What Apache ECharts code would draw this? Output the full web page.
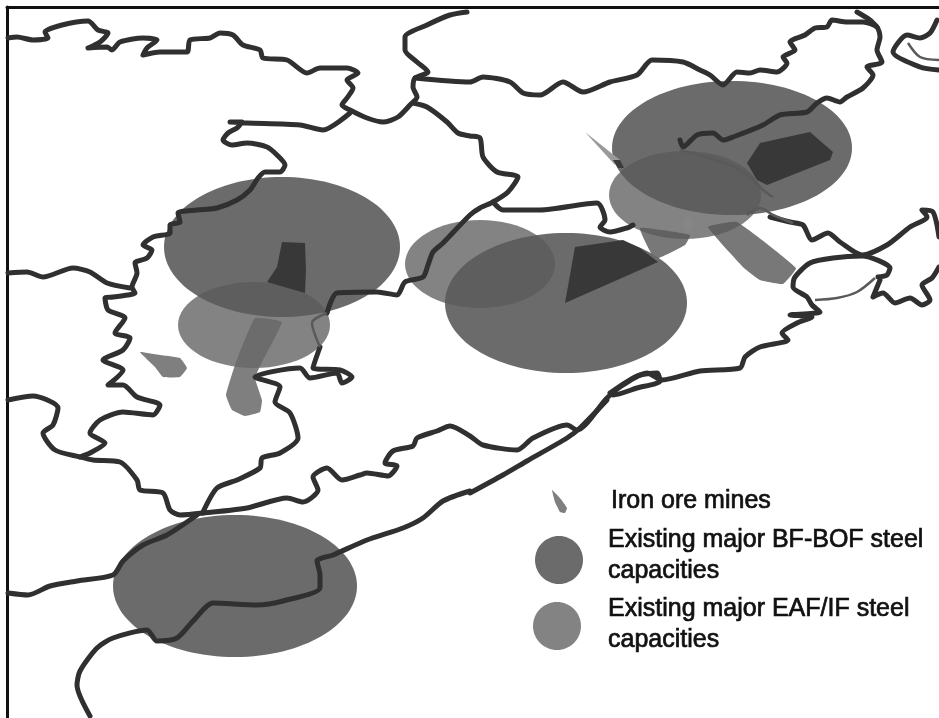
<!DOCTYPE html>
<html><head><meta charset="utf-8">
<style>html,body{margin:0;padding:0;background:#fff;overflow:hidden}#c{width:939px;height:718px;filter:blur(0.7px)}</style>
<script src="https://cdn.jsdelivr.net/npm/echarts@6/dist/echarts.min.js"></script>
</head><body><div id="c"></div>
<script>
// Map boundaries, [x, y] in map units
const northWest=[[8,38],[17,37],[33,40],[48,38],[45,32],[62,25],[88,21],[98,30],[108,33],[100,42],[88,48],[107,47],[112,50],[120,42],[143,38],[157,40],[147,48],[143,55],[160,52],[187,52],[190,40],[210,38],[220,33],[233,35],[243,45],[260,50],[263,58],[287,60],[307,73],[320,68],[347,68],[358,73],[347,80],[353,88],[347,98],[342,105],[350,110],[367,118],[383,122],[398,117],[410,105],[417,97],[413,87],[415,78],[428,72],[417,62],[405,50],[405,37],[427,25],[450,15],[467,12]];
const topBranch=[[415,78],[470,82],[483,77],[510,82],[523,93],[540,95],[563,82],[583,92],[610,82],[637,75],[652,60],[683,62],[700,70],[710,75],[723,85],[737,72],[750,73],[760,70],[777,72],[787,63],[783,57],[795,50],[790,42],[805,35],[815,28],[827,27],[832,20],[847,22],[863,22],[877,27],[880,37],[877,50],[882,62],[867,67],[873,75],[863,88],[847,97],[840,102],[827,98],[817,103],[807,112],[780,115],[763,125],[733,137],[723,140],[713,133],[697,135],[683,147],[680,140]];
const topEdge=[[857,12],[870,20],[877,27]];
const midBranch=[[413,103],[427,107],[447,122],[458,133],[470,136],[480,138],[483,157],[497,172],[518,177],[508,192],[493,202],[480,208],[470,215],[443,243],[433,252],[428,265],[423,277],[405,282],[397,295],[377,292],[337,293],[327,313]];
const midEast=[[493,202],[503,210],[540,210],[597,203],[605,220],[600,227],[610,232],[627,228],[633,225]];
const centreWest=[[350,113],[323,130],[300,125],[247,123],[230,122],[242,122],[237,128],[228,133],[223,140],[232,145],[247,143],[267,147],[277,155],[285,165],[280,172],[265,172],[258,178],[250,190],[237,200],[217,208],[197,210],[178,213],[180,222],[170,225],[170,233],[153,237],[143,245],[152,250],[147,258],[135,263],[137,273],[132,287],[135,293],[113,297],[105,298],[108,310],[125,318],[115,333],[130,338],[123,350],[103,360],[123,370],[108,385],[123,385],[137,397],[160,405],[153,415],[123,412],[100,420],[90,433],[105,443],[90,453],[80,457]];
const westBranch=[[8,273],[27,272],[43,277],[73,268],[90,272],[107,283],[130,288]];
const southWest=[[8,400],[33,396],[58,408],[53,425],[43,433],[55,450],[80,457],[93,460],[120,462],[137,480],[140,490],[163,493],[170,510],[180,515],[203,513]];
const centreSouth=[[203,512],[217,488],[237,480],[260,468],[262,458],[280,453],[298,438],[290,413],[275,402],[280,387],[255,377],[300,368],[310,378],[337,373],[342,383],[352,377],[340,370],[313,368],[320,347]];
const southCoast=[[203,513],[247,508],[287,498],[303,502],[318,490],[313,477],[327,468],[342,480],[360,475],[367,473],[388,476],[397,466],[385,463],[393,451],[413,446],[417,438],[437,431],[450,426],[470,436],[483,445],[517,450],[533,438],[567,425],[577,430],[607,398],[623,385],[647,373],[662,380],[700,371],[740,368],[745,357],[760,347],[788,340],[782,333],[797,323],[812,317],[790,315],[820,312],[812,305],[807,297],[793,287],[795,277],[810,263],[833,258],[862,256],[890,268],[887,275],[878,277]];
const outerCoast=[[470,493],[503,475],[527,461],[567,438],[580,428],[607,400]];
const riverSouth=[[470,491],[443,501],[423,518],[403,528],[367,540],[333,555],[317,561],[320,575],[320,588],[283,601],[257,605],[213,603],[193,621],[177,638],[157,641],[147,630],[113,638],[97,648],[80,671],[77,685],[90,716]];
const westBottom=[[8,593],[28,595],[50,586],[77,581],[113,575],[123,561],[143,545],[167,535],[197,515]];
const island=[[610,393],[637,376],[657,373],[660,381],[637,388],[613,395],[610,393]];
const northEast=[[770,217],[790,222],[803,225],[812,240],[828,233],[840,242],[862,255],[887,245],[910,227],[927,217],[922,210],[933,212],[939,237]];
const farEastA=[[937,20],[930,33],[920,38],[907,35],[893,52],[920,67],[939,70]];
const isles=[[880,280],[873,297],[883,293],[895,303],[910,298],[922,305],[930,300],[922,285],[932,278],[939,267]];
const boundaries=[northWest,topBranch,topEdge,midBranch,midEast,centreWest,westBranch,southWest,centreSouth,southCoast,outerCoast,riverSouth,westBottom,island,northEast,farEastA,isles];
// Fainter thin lines
const loopLower=[[815,300],[837,298],[857,292],[875,278]];
const farEastB=[[908,43],[920,57],[939,60]];
const innerCoast=[[680,150],[730,165],[750,177],[763,190],[773,197]];
const innerRiver=[[327,313],[312,323],[320,347]];
const bayLine=[[747,215],[760,208],[773,215],[793,223]];
const faintLines=[loopLower,farEastB,innerCoast,innerRiver,bayLine];

// Capacity regions: [centre x, centre y, x radius, y radius]
const bfBofRegions=[[282,247,118,70],[732,148,120,67],[566,303,121,70],[235,586,122,71],[559,560,24,24]];
const eafRegions=[[254,325,76,43],[685,195,76,44],[480,264,75,44],[557,626,24,24]];
const lightSpot=[[688,224,6,7]];

// Ore deposits and mines outlines
const mineLeftDrop=[[140,352],[160,355],[180,358],[187,368],[180,377],[163,377],[155,367]];
const mineLeftStrip=[[255,318],[236,362],[226,395],[232,410],[245,416],[260,412],[262,400],[255,378],[262,362],[282,322]];
const mineRightStrip=[[708,227],[737,222],[796,268],[783,284],[760,280],[744,268]];
const mineCentreLink=[[640,228],[690,235],[685,245],[655,259]];
const mineLegend=[[552,490],[560,498],[567,508],[565,513],[560,512],[555,502]];
const mineSliver=[[585,132],[620,160],[615,165]];
const mineTip=[[613,160],[620,160],[624,168],[618,168]];
const darkLeft=[[282,242],[305,243],[306,270],[305,293],[267,282],[277,267]];
const darkCentre=[[575,247],[623,240],[640,248],[658,262],[565,303]];
const darkRight=[[747,163],[760,143],[810,132],[833,152],[830,160],[767,185],[757,180]];

// Legend text
const legendLines=[["Iron ore mines",611,501],["Existing major BF-BOF steel",608,540],["capacities",608,571],["Existing major EAF/IF steel",608,609],["capacities",608,640]];

function ellipseSeries(data,color,z){return {type:'custom',coordinateSystem:'cartesian2d',z:z,silent:true,data:data,
  renderItem:(p,api)=>{const c=api.coord([api.value(0),api.value(1)]);const s=api.size([api.value(2),api.value(3)]);
    return {type:'ellipse',shape:{cx:c[0],cy:c[1],rx:Math.abs(s[0]),ry:Math.abs(s[1])},style:{fill:color}};}};}
function polySeries(list,color,z,smooth){return {type:'custom',coordinateSystem:'cartesian2d',z:z,silent:true,data:list.map((_,i)=>[i]),
  renderItem:(p,api)=>{const pts=list[api.value(0)].map(q=>api.coord(q));
    return {type:'polygon',shape:{points:pts,smooth:smooth},style:{fill:color}};}};}
const lineSeries=boundaries.map(b=>({type:'line',data:b,z:6,silent:true,showSymbol:false,smooth:0.25,lineStyle:{color:'#303030',width:5,join:'round',cap:'round'}}));
const faintSeries=faintLines.map(b=>({type:'line',data:b,z:6,silent:true,showSymbol:false,smooth:0.3,lineStyle:{color:'#5a5a5a',width:2.5}}));

const chart=echarts.init(document.getElementById('c'),null,{renderer:'canvas'});
chart.setOption({animation:false,backgroundColor:'#fff',
 grid:{left:7,top:7,right:0,bottom:0},
 xAxis:{type:'value',position:'top',min:7,max:939,axisTick:{show:false},axisLabel:{show:false},splitLine:{show:false},axisLine:{show:true,onZero:false,lineStyle:{color:'#111',width:3}}},
 yAxis:{type:'value',inverse:true,min:7,max:718,axisTick:{show:false},axisLabel:{show:false},splitLine:{show:false},axisLine:{show:true,onZero:false,lineStyle:{color:'#111',width:3}}},
 series:[
  polySeries([mineRightStrip,mineCentreLink],'#787878',1,0.1),
  ellipseSeries(bfBofRegions,'#6b6b6b',2),
  ellipseSeries(eafRegions,'rgba(90,90,90,0.75)',3),
  ellipseSeries(lightSpot,'#868686',3),
  polySeries([mineLeftDrop,mineLeftStrip,mineLegend],'rgba(105,105,105,0.85)',4,0.1),
  polySeries([mineSliver],'#9a9a9a',4,0),
  polySeries([mineTip],'#3a3a3a',4,0),
  polySeries([darkLeft,darkCentre,darkRight],'#383838',5,0),
  ...lineSeries,...faintSeries,
  {type:'custom',coordinateSystem:'cartesian2d',z:7,silent:true,data:legendLines.map((l,i)=>[l[1],l[2],i]),
   renderItem:(p,api)=>{const c=api.coord([api.value(0),api.value(1)]);
     return {type:'text',x:c[0],y:c[1],style:{text:legendLines[api.value(2)][0],fill:'#111',stroke:'#111',lineWidth:0.7,font:'25px "Liberation Sans", Arial, sans-serif',textAlign:'left',textVerticalAlign:'middle'}};}}
 ]});
</script></body></html>
